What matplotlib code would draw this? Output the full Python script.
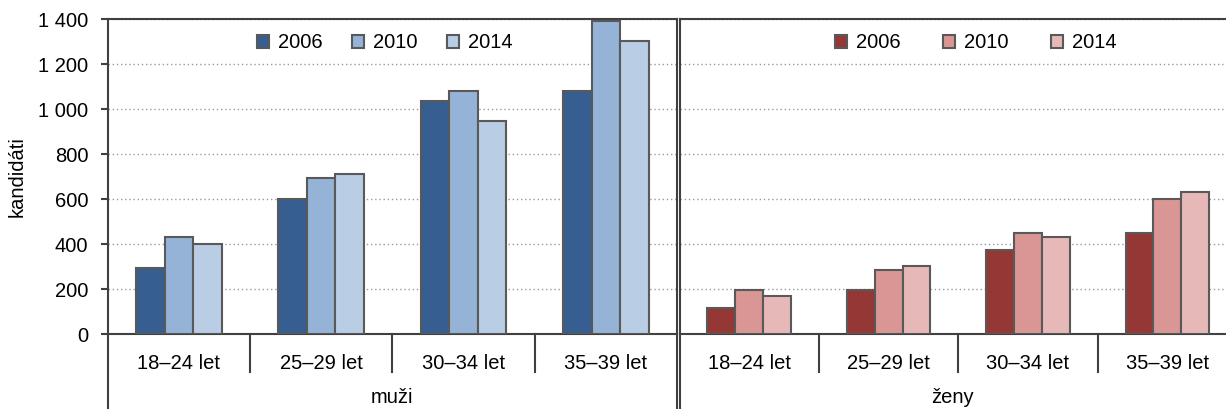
import matplotlib
matplotlib.use("Agg")
import matplotlib.pyplot as plt
import numpy as np

plt.rcParams['font.family'] = ['Liberation Sans', 'DejaVu Sans']

age_groups = ["18–24 let", "25–29 let", "30–34 let", "35–39 let"]
years = ["2006", "2010", "2014"]
men = {
    "2006": [296, 600, 1037, 1081],
    "2010": [432, 693, 1080, 1392],
    "2014": [400, 712, 948, 1305],
}
women = {
    "2006": [118, 198, 375, 452],
    "2010": [197, 284, 452, 600],
    "2014": [172, 304, 434, 634],
}
men_colors = ["#365E91", "#95B3D7", "#B9CDE5"]
women_colors = ["#953735", "#D99694", "#E6B9B8"]
yticks = [0, 200, 400, 600, 800, 1000, 1200, 1400]
ytick_labels = ["0", "200", "400", "600", "800", "1 000", "1 200", "1 400"]
panel_labels = ["muži", "ženy"]

W, H = 1226, 409
fig = plt.figure(figsize=(W / 100, H / 100), dpi=100)

y0, y1 = 334.3, 19.3
bottom = 1 - y0 / H
height = (y0 - y1) / H
ax1 = fig.add_axes([107.7 / W, bottom, (677 - 107.7) / W, height])
ax2 = fig.add_axes([679.5 / W, bottom, (1237 - 679.5) / W, height])

spine_c = "#404040"
edge_c = "#595959"
fs = 14.5

for ax, data, colors, plabel, lx, colsp in [
    (ax1, men, men_colors, panel_labels[0], 257, 1.45),
    (ax2, women, women_colors, panel_labels[1], 835, 2.1),
]:
    n = len(age_groups)
    x = np.arange(n)
    handles = []
    for i, yr in enumerate(years):
        b = ax.bar(x + 0.3 + 0.2 * i, data[yr], width=0.2, align="center",
                   color=colors[i], edgecolor=edge_c, linewidth=1.5, zorder=3,
                   label=yr)
        handles.append(b)
    ax.set_xlim(0, n)
    ax.set_ylim(0, 1400)
    ax.set_yticks(yticks)
    ax.grid(axis="y", linestyle=(0, (1, 2)), color="#999999", linewidth=1.0, zorder=0)
    ax.set_xticks(x + 0.5)
    ax.set_xticklabels(age_groups, fontsize=fs)
    ax.tick_params(axis="x", length=0, pad=14)
    for s in ["left", "bottom", "top", "right"]:
        ax.spines[s].set_color(spine_c)
        ax.spines[s].set_linewidth(1.5)
    ax.spines["right"].set_visible(ax is ax1)
    # separators below axis
    for k in range(1, n):
        ax.plot([k, k], [0, -0.12], transform=ax.get_xaxis_transform(),
                color=spine_c, linewidth=1.5, clip_on=False)
    ax.plot([0, 0], [0, -0.24], transform=ax.transAxes, color=spine_c,
            linewidth=1.5, clip_on=False)
    if ax is ax1:
        ax.plot([1, 1], [0, -0.24], transform=ax.transAxes, color=spine_c,
                linewidth=1.5, clip_on=False)
    ax.text(0.5 if ax is ax1 else (952 - 679.5) / (1237 - 679.5), -0.202, plabel,
            transform=ax.transAxes, ha="center", va="center", fontsize=fs)
    leg = ax.legend(handles=handles, labels=years, ncol=3, frameon=False,
                    loc="center left", bbox_to_anchor=(lx / W, 1 - 43 / H),
                    bbox_transform=fig.transFigure, borderpad=0, borderaxespad=0,
                    handlelength=0.6, handleheight=0.6, handletextpad=0.45,
                    columnspacing=colsp, fontsize=fs)

ax1.set_yticklabels(ytick_labels, fontsize=fs)
ax1.tick_params(axis="y", length=5, width=1.5, color=spine_c, pad=9)
ax1.set_ylabel("kandidáti", fontsize=fs)
ax1.yaxis.set_label_coords((27 - 107.7) / (677 - 107.7), 0.5)
ax2.tick_params(axis="y", length=0, labelleft=False)

fig.savefig("out.png", dpi=100)
